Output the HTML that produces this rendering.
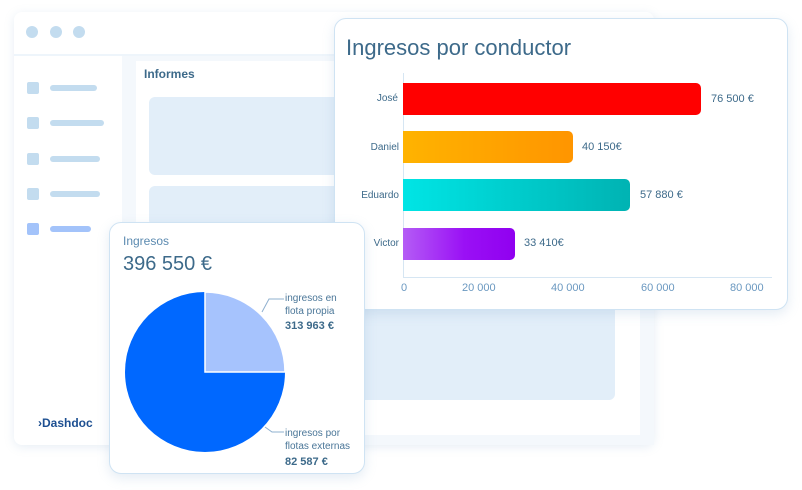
<!DOCTYPE html>
<html><head><meta charset="utf-8"><style>
*{margin:0;padding:0;box-sizing:border-box}
body{width:802px;height:490px;background:#fff;position:relative;overflow:hidden;font-family:"Liberation Sans",sans-serif}
.a{position:absolute}
.t{position:absolute;white-space:nowrap;color:#3d6a8a}
</style></head><body>
<div class="a" style="left:14px;top:12px;width:640px;height:433px;background:#fff;border-radius:8px;box-shadow:0 2px 10px rgba(120,160,200,.18)"></div>
<div class="a" style="left:26px;top:26px;width:12px;height:12px;border-radius:50%;background:#c3dcef"></div>
<div class="a" style="left:50px;top:26px;width:12px;height:12px;border-radius:50%;background:#c3dcef"></div>
<div class="a" style="left:73px;top:26px;width:12px;height:12px;border-radius:50%;background:#c3dcef"></div>
<div class="a" style="left:14px;top:54px;width:640px;height:2px;background:#eef5fb"></div>
<div class="a" style="left:122px;top:56px;width:532px;height:389px;background:#f4f8fc"></div>
<div class="a" style="left:136px;top:61px;width:504px;height:374px;background:#fff"></div>
<div class="t" style="left:144px;top:67px;font-size:12px;font-weight:bold;color:#3d6a8a">Informes</div>
<div class="a" style="left:149px;top:97px;width:200px;height:78px;background:#e2eef9;border-radius:6px"></div>
<div class="a" style="left:149px;top:186px;width:200px;height:40px;background:#e2eef9;border-radius:6px"></div>
<div class="a" style="left:288px;top:300px;width:327px;height:100px;background:#e2eef9;border-radius:6px"></div>
<div class="a" style="left:27px;top:82px;width:12px;height:12px;background:#c3dcef;border-radius:2px"></div>
<div class="a" style="left:50px;top:85px;width:47px;height:6px;background:#c3dcef;border-radius:3px"></div>
<div class="a" style="left:27px;top:117px;width:12px;height:12px;background:#c3dcef;border-radius:2px"></div>
<div class="a" style="left:50px;top:120px;width:54px;height:6px;background:#c3dcef;border-radius:3px"></div>
<div class="a" style="left:27px;top:153px;width:12px;height:12px;background:#c3dcef;border-radius:2px"></div>
<div class="a" style="left:50px;top:156px;width:50px;height:6px;background:#c3dcef;border-radius:3px"></div>
<div class="a" style="left:27px;top:188px;width:12px;height:12px;background:#c3dcef;border-radius:2px"></div>
<div class="a" style="left:50px;top:191px;width:50px;height:6px;background:#c3dcef;border-radius:3px"></div>
<div class="a" style="left:27px;top:223px;width:12px;height:12px;background:#a3c3fa;border-radius:2px"></div>
<div class="a" style="left:50px;top:226px;width:41px;height:6px;background:#a3c3fa;border-radius:3px"></div>
<div class="t" style="left:38px;top:416px;font-size:12px;font-weight:bold;color:#1d4f91">&#8250;Dashdoc</div>

<div class="a" style="left:334px;top:18px;width:454px;height:292px;background:#fff;border:1.5px solid #cfe3f3;border-radius:12px;box-shadow:0 4px 12px rgba(120,160,200,.2)"></div>
<div class="t" style="left:346px;top:35px;font-size:22px;color:#3d6a8a">Ingresos por conductor</div>
<div class="a" style="left:403px;top:73px;width:1px;height:205px;background:#d6e6f3"></div>
<div class="a" style="left:403px;top:277px;width:369px;height:1px;background:#d6e6f3"></div>
<div class="a" style="left:403px;top:83px;width:298px;height:32px;background:#ff0000;border-radius:0 5px 5px 0"></div>
<div class="a" style="left:403px;top:131px;width:170px;height:32px;background:linear-gradient(90deg,#ffb300,#ff9500);border-radius:0 5px 5px 0"></div>
<div class="a" style="left:403px;top:179px;width:227px;height:32px;background:linear-gradient(90deg,#00e5e5,#00b3b3);border-radius:0 5px 5px 0"></div>
<div class="a" style="left:403px;top:228px;width:112px;height:32px;background:linear-gradient(90deg,#b45cf5,#9a10f5 55%,#9000f0);border-radius:0 5px 5px 0"></div>
<div class="t" style="right:404px;top:93px;font-size:10px">José</div>
<div class="t" style="right:403px;top:142px;font-size:10px">Daniel</div>
<div class="t" style="right:403px;top:190px;font-size:10px">Eduardo</div>
<div class="t" style="right:403px;top:238px;font-size:10px">Victor</div>
<div class="t" style="left:711px;top:93px;font-size:11px">76 500 €</div>
<div class="t" style="left:582px;top:141px;font-size:11px">40 150€</div>
<div class="t" style="left:640px;top:189px;font-size:11px">57 880 €</div>
<div class="t" style="left:524px;top:237px;font-size:11px">33 410€</div>
<div class="t" style="left:401px;top:282px;font-size:11px;color:#6a98c0">0</div>
<div class="t" style="left:462px;top:282px;font-size:11px;color:#6a98c0">20 000</div>
<div class="t" style="left:551px;top:282px;font-size:11px;color:#6a98c0">40 000</div>
<div class="t" style="left:641px;top:282px;font-size:11px;color:#6a98c0">60 000</div>
<div class="t" style="left:730px;top:282px;font-size:11px;color:#6a98c0">80 000</div>

<div class="a" style="left:109px;top:222px;width:256px;height:252px;background:#fff;border:1.5px solid #cfe3f3;border-radius:12px;box-shadow:0 4px 12px rgba(120,160,200,.2)"></div>
<div class="t" style="left:123px;top:234px;font-size:12px;color:#5b8ab0">Ingresos</div>
<div class="t" style="left:123px;top:253px;font-size:20px;color:#3d6a8a">396 550 €</div>
<svg class="a" style="left:109px;top:222px" width="256" height="252">
<circle cx="96" cy="150" r="80" fill="#0068ff"/>
<path d="M96 150 L96 70 A80 80 0 0 1 176 150 Z" fill="#a6c3fd" stroke="#fff" stroke-width="1.5"/>
<polyline points="153,90 160,77 175,77" fill="none" stroke="#8fb0cf" stroke-width="1"/>
<polyline points="156,205 163,210 175,210" fill="none" stroke="#8fb0cf" stroke-width="1"/>
</svg>
<div class="t" style="left:285px;top:292px;font-size:10px;line-height:13px;color:#4a7698">ingresos en<br>flota propia</div>
<div class="t" style="left:285px;top:320px;font-size:11px;font-weight:bold">313 963 €</div>
<div class="t" style="left:285px;top:427px;font-size:10px;line-height:13px;color:#4a7698">ingresos por<br>flotas externas</div>
<div class="t" style="left:285px;top:456px;font-size:11px;font-weight:bold">82 587 €</div>
</body></html>
